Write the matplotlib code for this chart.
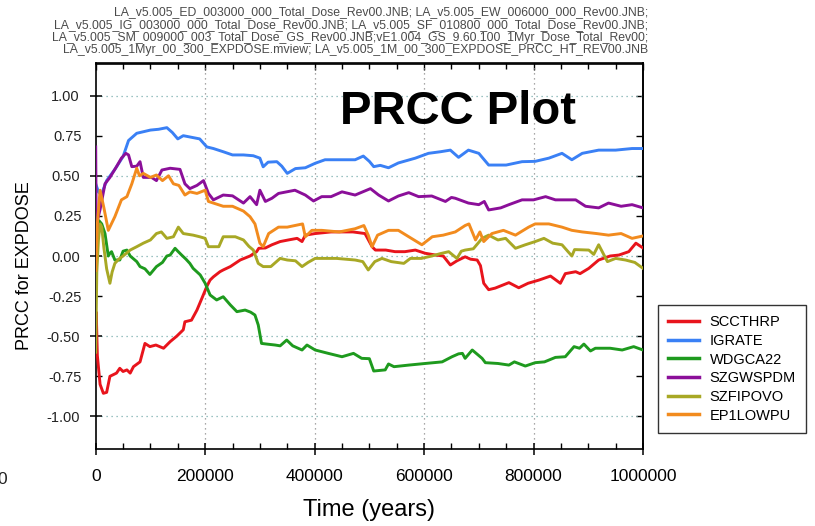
"""
PRCC plot for EXPDOSE - partial rank correlation coefficients over time
"""

import matplotlib.pyplot as plt
import numpy as np
from matplotlib.ticker import MultipleLocator, FormatStrFormatter

plt.rcParams['font.family'] = ['Liberation Sans', 'DejaVu Sans']
plt.rcParams['axes.unicode_minus'] = False

# time points are in thousands of years (kyr), values are PRCC
scc_t = [0, 1, 3, 8, 14, 20, 26, 38, 44, 50, 57, 63, 69, 81, 90, 99, 110, 124, 136, 148,
         160, 163, 175, 185, 194, 203, 209, 215, 227, 233, 246, 264, 282, 294, 298, 310,
         322, 337, 352, 368, 377, 383, 401, 430, 450, 470, 492, 505, 511, 530, 547, 565,
         584, 602, 621, 635, 648, 660, 675, 685, 697, 703, 709, 718, 730, 755, 773, 790,
         810, 831, 849, 858, 877, 885, 901, 919, 940, 956, 974, 987, 1000]
scc_v = [-0.60, -0.35, -0.62, -0.80, -0.856, -0.85, -0.75, -0.73, -0.70, -0.72, -0.71,
         -0.73, -0.69, -0.66, -0.545, -0.565, -0.555, -0.575, -0.534, -0.50, -0.46, -0.41,
         -0.40, -0.337, -0.264, -0.19, -0.15, -0.13, -0.098, -0.087, -0.066, -0.025, 0.0,
         0.027, 0.048, 0.05, 0.07, 0.09, 0.10, 0.11, 0.09, 0.13, 0.14, 0.15, 0.15, 0.15,
         0.14, 0.058, 0.037, 0.037, 0.027, 0.027, 0.037, 0.017, 0.006, 0.0, -0.056, -0.03,
         -0.005, -0.02, -0.025, -0.06, -0.17, -0.21, -0.20, -0.166, -0.198, -0.17, -0.15,
         -0.125, -0.17, -0.11, -0.098, -0.11, -0.077, -0.025, 0.0, 0.006, 0.027, 0.08, 0.05]

igr_t = [0, 5, 10, 20, 35, 50, 60, 75, 100, 115, 130, 140, 150, 160, 175, 190, 203, 215,
         233, 250, 270, 288, 300, 306, 315, 331, 340, 350, 365, 383, 401, 419, 440, 474,
         489, 500, 508, 520, 535, 553, 584, 608, 630, 648, 663, 681, 700, 718, 750, 779,
         803, 828, 852, 870, 889, 919, 950, 980, 1000]
igr_v = [0.45, 0.40, 0.38, 0.47, 0.54, 0.62, 0.72, 0.765, 0.785, 0.79, 0.80, 0.77, 0.73,
         0.75, 0.74, 0.73, 0.68, 0.67, 0.65, 0.63, 0.63, 0.625, 0.61, 0.556, 0.585, 0.588,
         0.56, 0.515, 0.545, 0.55, 0.578, 0.60, 0.60, 0.60, 0.623, 0.59, 0.557, 0.565, 0.55,
         0.58, 0.61, 0.64, 0.65, 0.66, 0.615, 0.66, 0.64, 0.567, 0.567, 0.588, 0.59, 0.61,
         0.64, 0.60, 0.64, 0.66, 0.66, 0.67, 0.67]

wdg_t = [2, 6, 11, 17, 23, 26, 29, 35, 44, 50, 57, 63, 75, 81, 90, 99, 111, 122, 130, 136,
         145, 150, 157, 165, 172, 178, 191, 200, 209, 221, 233, 246, 258, 273, 283, 291,
         297, 303, 315, 328, 337, 349, 360, 377, 386, 401, 425, 450, 471, 486, 500, 508,
         529, 535, 545, 572, 602, 633, 651, 663, 670, 675, 688, 706, 712, 735, 755, 765,
         785, 803, 820, 840, 858, 874, 884, 892, 904, 913, 940, 962, 983, 1000]
wdg_v = [0.10, 0.22, 0.20, 0.14, 0.0, 0.017, 0.027, -0.025, -0.025, 0.03, 0.037, 0.0,
         -0.035, -0.066, -0.08, -0.115, -0.066, -0.04, 0.0, 0.006, 0.048, 0.03, 0.006,
         -0.02, -0.046, -0.077, -0.118, -0.17, -0.243, -0.274, -0.254, -0.305, -0.347,
         -0.337, -0.35, -0.368, -0.43, -0.545, -0.55, -0.555, -0.56, -0.524, -0.56, -0.586,
         -0.555, -0.586, -0.607, -0.628, -0.607, -0.638, -0.64, -0.717, -0.71, -0.673,
         -0.69, -0.68, -0.67, -0.66, -0.628, -0.61, -0.607, -0.638, -0.586, -0.638, -0.665,
         -0.67, -0.68, -0.66, -0.686, -0.665, -0.66, -0.632, -0.628, -0.565, -0.575, -0.549,
         -0.592, -0.575, -0.575, -0.586, -0.565, -0.586]

szg_t = [0, 1, 3, 8, 17, 26, 38, 47, 55, 60, 66, 75, 81, 87, 102, 111, 121, 136, 154, 163,
         172, 185, 197, 206, 215, 233, 250, 270, 282, 294, 300, 310, 322, 334, 364, 383,
         398, 413, 430, 450, 474, 502, 517, 535, 553, 572, 590, 614, 639, 650, 657, 681,
         700, 710, 718, 740, 755, 779, 800, 822, 840, 877, 895, 919, 937, 960, 980, 1000]
szg_v = [0.68, 0.15, 0.22, 0.29, 0.45, 0.49, 0.557, 0.61, 0.64, 0.63, 0.557, 0.56, 0.588,
         0.49, 0.49, 0.47, 0.536, 0.547, 0.54, 0.45, 0.42, 0.44, 0.47, 0.39, 0.35, 0.38,
         0.375, 0.33, 0.37, 0.32, 0.41, 0.34, 0.36, 0.39, 0.41, 0.38, 0.343, 0.37, 0.37,
         0.40, 0.38, 0.42, 0.38, 0.343, 0.374, 0.395, 0.37, 0.374, 0.34, 0.365, 0.36, 0.33,
         0.32, 0.34, 0.287, 0.30, 0.32, 0.35, 0.35, 0.37, 0.35, 0.35, 0.31, 0.30, 0.33,
         0.31, 0.32, 0.30]

szf_t = [0, 2, 5, 8, 11, 15, 20, 26, 30, 35, 42, 50, 57, 63, 75, 87, 100, 111, 120, 130,
         142, 151, 160, 178, 190, 200, 206, 225, 233, 255, 270, 280, 288, 297, 306, 320,
         337, 350, 365, 377, 388, 401, 440, 474, 488, 498, 510, 523, 540, 563, 575, 595,
         614, 630, 645, 660, 668, 675, 690, 706, 718, 735, 749, 767, 785, 803, 819, 835,
         852, 870, 875, 901, 910, 919, 935, 950, 968, 985, 1000]
szf_v = [-0.60, -0.10, 0.10, 0.20, 0.18, 0.05, -0.08, -0.17, -0.10, -0.046, -0.02, 0.0,
         0.02, 0.037, 0.058, 0.08, 0.10, 0.14, 0.15, 0.11, 0.12, 0.18, 0.14, 0.13, 0.12,
         0.11, 0.058, 0.058, 0.12, 0.12, 0.10, 0.06, 0.037, -0.046, -0.066, -0.066, -0.015,
         -0.025, -0.03, -0.066, -0.04, -0.015, -0.015, -0.025, -0.035, -0.087, -0.035,
         -0.015, -0.035, -0.046, -0.015, -0.015, 0.0, 0.015, 0.027, -0.015, 0.03, 0.037,
         0.045, 0.11, 0.13, 0.10, 0.11, 0.048, 0.07, 0.09, 0.11, 0.08, 0.07, 0.0, 0.04,
         0.037, 0.01, 0.07, -0.035, -0.015, -0.025, -0.04, -0.077]

ep1_t = [0, 3, 8, 15, 23, 35, 47, 57, 66, 75, 80, 87, 100, 111, 122, 133, 142, 152, 163,
         172, 185, 200, 206, 233, 250, 270, 282, 291, 300, 306, 316, 334, 350, 364, 378,
         383, 395, 413, 445, 474, 490, 498, 505, 515, 535, 553, 572, 596, 615, 635, 657,
         675, 682, 694, 702, 709, 724, 745, 767, 791, 803, 828, 852, 870, 889, 915, 937,
         960, 980, 1000]
ep1_v = [-0.09, 0.20, 0.41, 0.30, 0.16, 0.245, 0.35, 0.37, 0.45, 0.547, 0.50, 0.515, 0.49,
         0.505, 0.47, 0.50, 0.45, 0.44, 0.38, 0.40, 0.39, 0.41, 0.34, 0.31, 0.31, 0.28,
         0.245, 0.20, 0.08, 0.058, 0.14, 0.18, 0.18, 0.19, 0.20, 0.12, 0.16, 0.16, 0.15,
         0.17, 0.19, 0.13, 0.058, 0.13, 0.16, 0.16, 0.12, 0.07, 0.12, 0.13, 0.15, 0.19,
         0.20, 0.10, 0.15, 0.09, 0.14, 0.16, 0.13, 0.18, 0.20, 0.20, 0.18, 0.16, 0.15,
         0.14, 0.13, 0.14, 0.11, 0.125]

series_names = ['SCCTHRP', 'IGRATE', 'WDGCA22', 'SZGWSPDM', 'SZFIPOVO', 'EP1LOWPU']
series_colors = ['#e8141c', '#3a80f5', '#1e9a1e', '#8b0f99', '#a8a825', '#f28b1e']

header_lines = [
    'LA_v5.005_ED_003000_000_Total_Dose_Rev00.JNB; LA_v5.005_EW_006000_000_Rev00.JNB;',
    'LA_v5.005_IG_003000_000_Total_Dose_Rev00.JNB; LA_v5.005_SF_010800_000_Total_Dose_Rev00.JNB;',
    'LA_v5.005_SM_009000_003_Total_Dose_GS_Rev00.JNB;vE1.004_GS_9.60.100_1Myr_Dose_Total_Rev00;',
    'LA_v5.005_1Myr_00_300_EXPDOSE.mview; LA_v5.005_1M_00_300_EXPDOSE_PRCC_HT_REV00.JNB',
]

W, H = 815, 526
fig = plt.figure(figsize=(W / 100, H / 100), dpi=100, facecolor='white')
ax = fig.add_axes([95.7 / W, 1 - 448.5 / H, 547.3 / W, 385 / H])

all_t = [scc_t, igr_t, wdg_t, szg_t, szf_t, ep1_t]
all_v = [scc_v, igr_v, wdg_v, szg_v, szf_v, ep1_v]
for t, v, name, col in zip(all_t, all_v, series_names, series_colors):
    ax.plot(np.array(t) * 1000, v, color=col, lw=2.1, label=name,
            solid_joinstyle='round', zorder=3)

ax.set_xlim(0, 1000000)
ax.set_ylim(-1.2, 1.2)

# grid: dotted, only on the big ticks
for yg in [-1.0, -0.5, 0.0, 0.5, 1.0]:
    ax.axhline(yg, color='#7aaeae', lw=0.9, ls=(0, (1, 3)), zorder=1)
for xg in [200000, 400000, 600000, 800000]:
    ax.axvline(xg, color='#8c8c8c', lw=0.9, ls=(0, (1, 3)), zorder=1)

ax.xaxis.set_major_locator(MultipleLocator(200000))
ax.xaxis.set_minor_locator(MultipleLocator(50000))
ax.xaxis.set_major_formatter(FormatStrFormatter('%d'))
ax.yaxis.set_major_locator(MultipleLocator(0.5))
ax.yaxis.set_minor_locator(MultipleLocator(0.25))
ax.yaxis.set_major_formatter(FormatStrFormatter('%.2f'))
ax.yaxis.set_minor_formatter(FormatStrFormatter('%.2f'))

ax.tick_params(axis='x', which='major', direction='inout', length=9, width=1.1,
               labelsize=12.5, pad=10, colors='black')
ax.tick_params(axis='x', which='minor', direction='in', length=4, width=1.0)
ax.tick_params(axis='y', which='major', direction='inout', length=9, width=1.1,
               labelsize=10.5, pad=7, labelcolor='#222222')
ax.tick_params(axis='y', which='minor', direction='in', length=4, width=1.0,
               labelsize=10.5, pad=10, labelcolor='#222222')

# ticks on top and right point inward, no labels
top = ax.secondary_xaxis('top')
top.xaxis.set_major_locator(MultipleLocator(200000))
top.xaxis.set_minor_locator(MultipleLocator(50000))
top.tick_params(which='major', direction='in', length=5, width=1.0, labeltop=False)
top.tick_params(which='minor', direction='in', length=4, width=1.0)
right = ax.secondary_yaxis('right')
right.yaxis.set_major_locator(MultipleLocator(0.25))
right.yaxis.set_minor_locator(MultipleLocator(0.25))
right.tick_params(which='major', direction='in', length=5, width=1.0, labelright=False)

for sp in ax.spines.values():
    sp.set_linewidth(1.2)
top.spines['top'].set_linewidth(1.2)
right.spines['right'].set_linewidth(1.2)

ax.set_xlabel('Time (years)', fontsize=17, va='center')
ax.xaxis.set_label_coords(0.5, (448.5 - 510) / 385)
ax.set_ylabel('PRCC for EXPDOSE', fontsize=13, va='center')
ax.yaxis.set_label_coords((24 - 95.7) / 547.3, (448.5 - 266) / 385)

ax.text(340 / W, 1 - 124 / H, 'PRCC Plot', transform=fig.transFigure,
        fontsize=34, fontweight='bold', ha='left', va='baseline')

for i, line in enumerate(header_lines):
    fig.text(648 / W, 1 - (12 + 12.8 * i) / H, line, ha='right', va='center',
             fontsize=8.8, color='#4a4a4a')

# cut-off zero at the far left edge, as in the original screenshot
fig.text(-3 / W, 1 - 479 / H, '0', ha='left', va='center', fontsize=12.5, color='#222222')

leg = ax.legend(loc='upper left', bbox_to_anchor=(658 / W, 1 - 305 / H),
                bbox_transform=fig.transFigure, fontsize=10.5, frameon=True,
                fancybox=False, edgecolor='black', handlelength=2.1,
                handletextpad=0.75, labelspacing=0.32, borderpad=0.7,
                borderaxespad=0)
leg.get_frame().set_linewidth(1.0)
for lh in leg.get_lines():
    lh.set_linewidth(2.5)

plt.savefig('out.png', dpi=100, facecolor='white')
